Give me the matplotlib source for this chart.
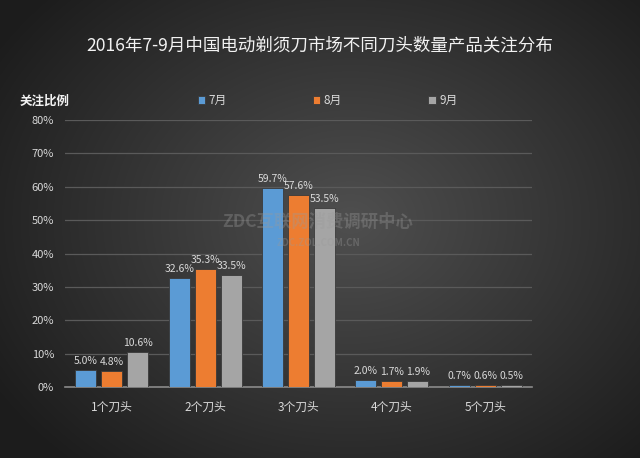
import numpy as np
import matplotlib
matplotlib.use("Agg")
import matplotlib.pyplot as plt

plt.rcParams['font.family'] = ['Noto Sans CJK SC', 'DejaVu Sans']

categories = ['1个刀头', '2个刀头', '3个刀头', '4个刀头', '5个刀头']
series_names = ['7月', '8月', '9月']
jul = [5.0, 32.6, 59.7, 2.0, 0.7]
aug = [4.8, 35.3, 57.6, 1.7, 0.6]
sep = [10.6, 33.5, 53.5, 1.9, 0.5]
colors = ['#5b9bd5', '#ed7d31', '#a5a5a5']

fig = plt.figure(figsize=(6.4, 4.58), dpi=100)

# dark radial gradient background
bg = fig.add_axes([0, 0, 1, 1], zorder=-10)
yy, xx = np.mgrid[0:458, 0:640]
r = np.sqrt(((xx - 350) / 420.0) ** 2 + ((yy - 220) / 330.0) ** 2)
shade = np.clip(0.31 - 0.20 * r, 0.11, 0.31)
bg.imshow(np.dstack([shade] * 3), aspect='auto', extent=[0, 1, 0, 1])
bg.axis('off')

ax = fig.add_axes([0.102, 0.155, 0.729, 0.583])
ax.set_facecolor('none')

x = np.arange(len(categories))
w = 0.225
step = 0.278
for i, (vals, c) in enumerate(zip([jul, aug, sep], colors)):
    pos = x + (i - 1) * step
    ax.bar(pos, [v / 100 for v in vals], width=w, color=c, edgecolor='#3a3a3a',
           linewidth=0.6, zorder=3, label=series_names[i])
    for px, v in zip(pos, vals):
        ax.text(px, v / 100 + 0.012, f'{v:.1f}%', ha='center', va='bottom',
                color='#d9d9d9', fontsize=7.5, zorder=4)

ax.set_xlim(-0.5, len(categories) - 0.5)
ax.set_ylim(0, 0.8)
ax.set_yticks(np.arange(0, 0.81, 0.1))
ax.set_yticklabels([f'{int(round(t * 100))}%' for t in np.arange(0, 0.81, 0.1)],
                   color='#d9d9d9', fontsize=8)
ax.set_xticks(x)
ax.set_xticklabels(categories, color='#d9d9d9', fontsize=8.5)
ax.tick_params(axis='both', length=0, pad=8)
ax.tick_params(axis='x', pad=10)
ax.grid(axis='y', color='#5a5a5a', linewidth=0.9, zorder=0)
for s in ['top', 'right', 'left']:
    ax.spines[s].set_visible(False)
ax.spines['bottom'].set_color('#8a8a8a')
ax.spines['bottom'].set_linewidth(1.2)

fig.text(0.5, 0.902, '2016年7-9月中国电动剃须刀市场不同刀头数量产品关注分布',
         ha='center', va='center', color='#f2f2f2', fontsize=12.6)
fig.text(0.031, 0.779, '关注比例', ha='left', va='center', color='#f2f2f2',
         fontsize=9, fontweight='bold')

leg = ax.legend(loc='lower left', bbox_to_anchor=(0.275, 1.03), ncol=3,
                frameon=False, fontsize=8.5, handlelength=0.6, handleheight=0.6,
                handletextpad=0.3, columnspacing=7.3, borderaxespad=0)
for t in leg.get_texts():
    t.set_color('#d9d9d9')

# watermark
fig.text(0.497, 0.515, 'ZDC互联网消费调研中心', ha='center', va='center',
         color='#9a9a9a', alpha=0.35, fontsize=12.5, fontweight='bold')
fig.text(0.497, 0.47, 'ZDC.ZOL.COM.CN', ha='center', va='center',
         color='#9a9a9a', alpha=0.35, fontsize=7, fontweight='bold')

fig.savefig('out.png', dpi=100)
